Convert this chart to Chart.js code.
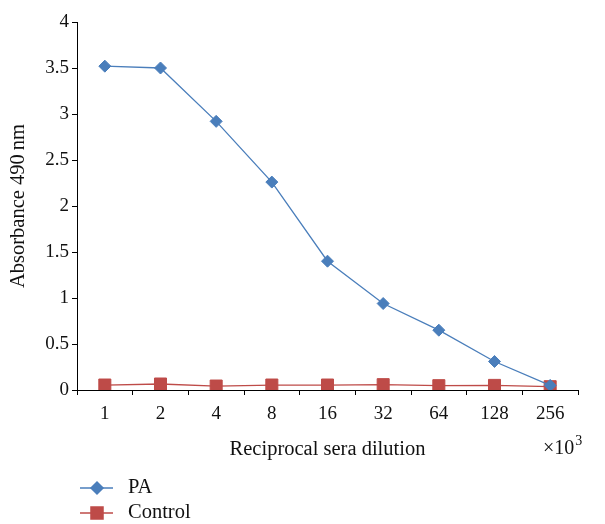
<!DOCTYPE html>
<html>
<head>
<meta charset="utf-8">
<script src="https://cdn.jsdelivr.net/npm/chart.js@4/dist/chart.umd.min.js"></script>
<style>
  html, body { margin: 0; padding: 0; background: #fff; }
  #wrap { width: 605px; height: 524px; }
</style>
</head>
<body>
<div id="wrap"><canvas id="myChart" width="605" height="524"></canvas></div>
<script>
"use strict";
const dilutions = ["1", "2", "4", "8", "16", "32", "64", "128", "256"];
const paValues = [3.52, 3.50, 2.92, 2.26, 1.40, 0.94, 0.65, 0.31, 0.05];
const controlValues = [0.054, 0.065, 0.043, 0.054, 0.054, 0.058, 0.047, 0.05, 0.036];
const yTicks = [0, 0.5, 1, 1.5, 2, 2.5, 3, 3.5, 4];

const FONT = "'Liberation Serif', 'DejaVu Serif', serif";
const BLUE = "#4a7ebb";
const RED = "#be4b48";
const TEXT = "#111";

// legend + x10^3 note drawn by hand
const extras = {
  id: "extras",
  afterDraw(chart) {
    const ctx = chart.ctx;
    ctx.save();
    ctx.font = "20px " + FONT;
    ctx.fillStyle = TEXT;
    ctx.textBaseline = "middle";
    ctx.textAlign = "left";
    // x10^3
    ctx.fillText("\u00d710", 543, 449);
    const w = ctx.measureText("\u00d710").width;
    ctx.font = "14px " + FONT;
    ctx.fillText("3", 543 + w + 1, 441);

    const items = [
      { label: chart.data.datasets[0].label, color: BLUE, style: "rectRot", r: 6, y: 488 },
      { label: chart.data.datasets[1].label, color: RED, style: "rect", r: 8.5, y: 513 }
    ];
    items.forEach(it => {
      ctx.strokeStyle = it.color;
      ctx.lineWidth = 1.5;
      ctx.beginPath();
      ctx.moveTo(80, it.y);
      ctx.lineTo(113, it.y);
      ctx.stroke();
      ctx.fillStyle = it.color;
      Chart.helpers.drawPoint(ctx, { pointStyle: it.style, radius: it.r, borderWidth: 1 }, 97, it.y);
      ctx.fill();
      ctx.fillStyle = TEXT;
      ctx.font = "20.5px " + FONT;
      ctx.fillText(it.label, 128, it.y);
    });
    ctx.restore();
  }
};

const ctx = document.getElementById("myChart").getContext("2d");
const chart = new Chart(ctx, {
  type: "line",
  data: {
    labels: dilutions,
    datasets: [
      {
        label: "PA",
        data: paValues,
        borderColor: BLUE,
        backgroundColor: BLUE,
        borderWidth: 1.3,
        pointStyle: "rectRot",
        pointRadius: 6,
        pointBorderWidth: 1,
        tension: 0
      },
      {
        label: "Control",
        data: controlValues,
        borderColor: RED,
        backgroundColor: RED,
        borderWidth: 1.3,
        pointStyle: "rect",
        pointRadius: 8.5,
        pointBorderWidth: 1,
        tension: 0
      }
    ]
  },
  options: {
    responsive: false,
    animation: false,
    layout: { padding: { left: 0, right: 27, top: 22, bottom: 62 } },
    plugins: {
      legend: { display: false },
      tooltip: { enabled: false }
    },
    scales: {
      x: {
        offset: true,
        grid: { drawOnChartArea: false, drawTicks: true, tickLength: 5, offset: true, color: "#000" },
        border: { color: "#000", width: 1 },
        ticks: { color: TEXT, font: { family: FONT, size: 19 }, padding: 8, maxRotation: 0 },
        title: {
          display: true,
          text: "Reciprocal sera dilution",
          color: TEXT,
          font: { family: FONT, size: 20.5 },
          padding: { top: 0, bottom: 0 }
        },
        afterFit(scale) { scale.height = 72; }
      },
      y: {
        min: 0,
        max: 4,
        afterBuildTicks(scale) { scale.ticks = yTicks.map(v => ({ value: v })); },
        grid: { drawOnChartArea: false, drawTicks: true, tickLength: 5, color: "#000" },
        border: { color: "#000", width: 1 },
        ticks: {
          color: TEXT,
          font: { family: FONT, size: 19 },
          padding: 3,
          callback: v => String(v)
        },
        title: {
          display: true,
          text: "Absorbance 490\u2009nm",
          color: TEXT,
          font: { family: FONT, size: 20.5 },
          padding: { top: 6, bottom: 0 }
        },
        afterFit(scale) { scale.width = 77; }
      }
    }
  },
  plugins: [extras]
});
</script>
</body>
</html>
